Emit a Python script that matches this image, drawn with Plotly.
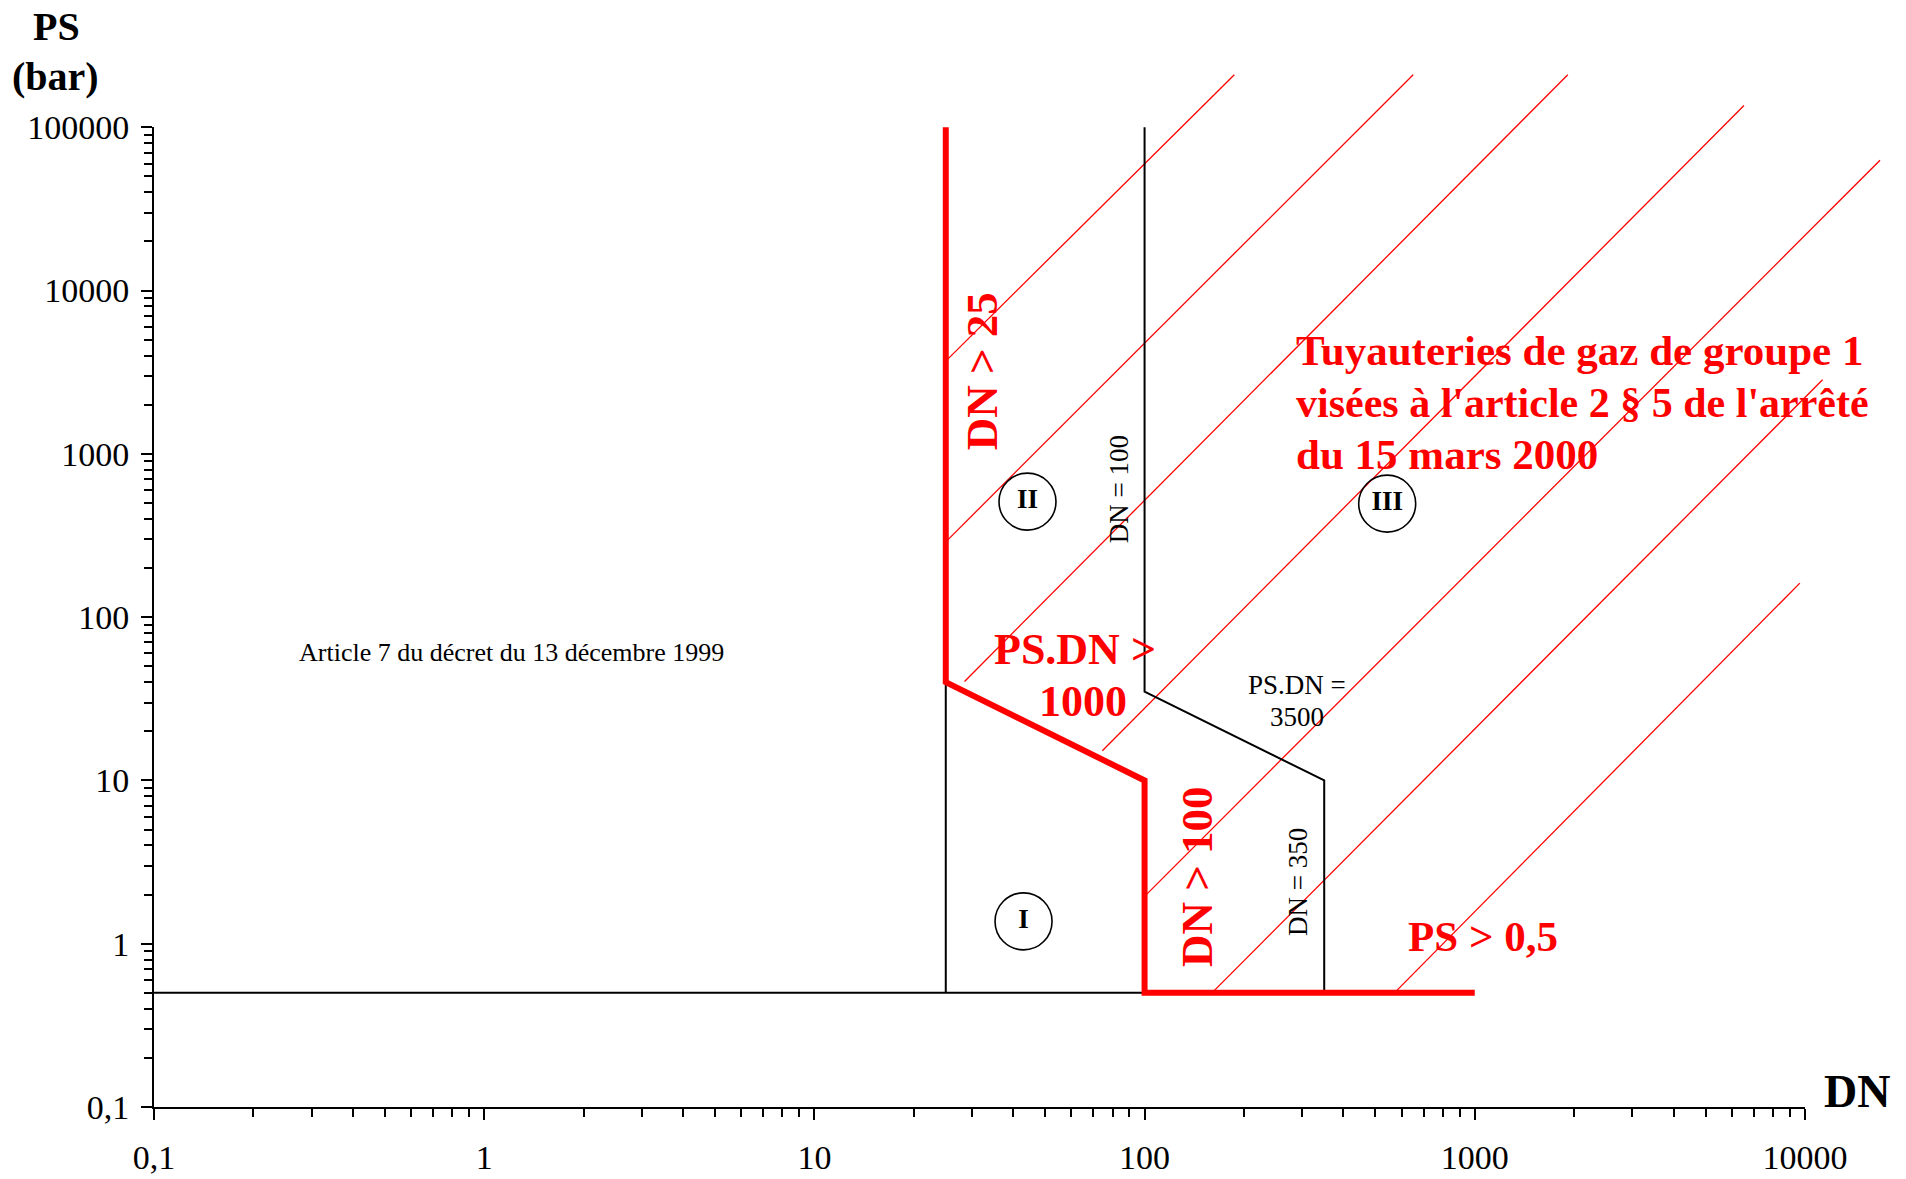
import numpy as np
import plotly.graph_objects as go

# ---------------- data ----------------
x_tick_vals = [0.1, 1, 10, 100, 1000, 10000]
x_tick_text = ["0,1", "1", "10", "100", "1000", "10000"]
y_tick_vals = [0.1, 1, 10, 100, 1000, 10000, 100000]
y_tick_text = ["0,1", "1", "10", "100", "1000", "10000", "100000"]

# black boundaries (DN, PS)
art7_dn = [0.1, 350]
art7_ps = [0.5, 0.5]
cat1_dn = [25, 25, 100]
cat1_ps = [0.5, 40, 10]
cat3_dn = [100, 100, 350, 350]
cat3_ps = [100000, 35, 10, 0.5]

# red thick limit
limit_dn = [25, 25, 100, 100, 1000]
limit_ps = [100000, 40, 10, 0.5, 0.5]

# red hatch lines
hatch_dn_start = [25, 25, 28.5, 74.5, 100, 160, 571]
hatch_ps_start = [3700, 289, 40.4, 15.2, 1.95, 0.5, 0.5]
hatch_dn_end = [187, 651, 1913, 6537, 16880, 11310, 9652]
hatch_ps_end = [210000, 210000, 210000, 136000, 62900, 2847, 161.6]

# region markers
region_labels = ["I", "II", "III"]
region_dn = [43.0, 44.2, 543]
region_ps = [1.37, 510, 496]

FONT = "Liberation Serif, Times New Roman, serif"
RED = "#FF0000"

fig = go.Figure()

hx, hy = [], []
for a, b, c, d in zip(hatch_dn_start, hatch_ps_start, hatch_dn_end, hatch_ps_end):
    hx += [a, c, None]
    hy += [b, d, None]
fig.add_trace(go.Scatter(x=hx, y=hy, mode="lines", line=dict(color=RED, width=1.3),
                         hoverinfo="skip"))

for xs, ys in [(art7_dn, art7_ps), (cat1_dn, cat1_ps), (cat3_dn, cat3_ps)]:
    fig.add_trace(go.Scatter(x=xs, y=ys, mode="lines", line=dict(color="black", width=2),
                             hoverinfo="skip"))

fig.add_trace(go.Scatter(x=limit_dn, y=limit_ps, mode="lines",
                         line=dict(color=RED, width=6), hoverinfo="skip"))

fig.add_trace(go.Scatter(x=region_dn, y=region_ps, mode="markers+text", text=region_labels,
                         textposition="middle center",
                         textfont=dict(family=FONT, size=27, color="black", weight="bold"),
                         marker=dict(symbol="circle-open", size=57, color="black",
                                     line=dict(color="black", width=1.6)),
                         hoverinfo="skip"))

# invisible trace for the visible axes
fig.add_trace(go.Scatter(x=[1], y=[1], xaxis="x2", yaxis="y2", mode="markers",
                         marker=dict(opacity=0), hoverinfo="skip"))

# ---------------- annotations ----------------
labels = [
    # text, dn, ps, size, bold, color, angle, xanchor
    ("Article 7 du décret du 13 décembre 1999", 1.21, 60.6, 26, False, "black", 0, "center"),
    ("DN = 100", 83.4, 604, 27, False, "black", -90, "center"),
    ("DN = 350", 290.6, 2.37, 27, False, "black", -90, "center"),
    ("PS.DN =", 288.7, 38.6, 27, False, "black", 0, "center"),
    ("3500", 290, 24.6, 27, False, "black", 0, "center"),
    ("PS.DN >", 61.6, 63.2, 44, True, RED, 0, "center"),
    ("1000", 64.9, 30.4, 44, True, RED, 0, "center"),
    ("DN > 25", 32.1, 3187, 45, True, RED, -90, "center"),
    ("DN > 100", 143.7, 2.58, 45, True, RED, -90, "center"),
    ("PS > 0,5", 1056, 1.105, 43, True, RED, 0, "center"),
    ("Tuyauteries de gaz de groupe 1", 282.6, 4285, 43, True, RED, 0, "left"),
    ("visées à l'article 2 § 5 de l'arrêté", 282.6, 2041, 42, True, RED, 0, "left"),
    ("du 15 mars 2000", 282.6, 994, 43, True, RED, 0, "left"),
]
annotations = []
for text, dn, ps, size, bold, color, angle, xa in labels:
    annotations.append(dict(
        x=np.log10(dn), y=np.log10(ps), xref="x", yref="y", text=text, showarrow=False,
        textangle=angle, xanchor=xa, yanchor="middle",
        font=dict(family=FONT, size=size, color=color, weight="bold" if bold else "normal")))

# axis titles
for text, px, py, size in [("DN", 0.9729, 0.0144, 46), ("PS", -0.0556, 1.0338, 40),
                           ("(bar)", -0.0563, 0.9857, 40)]:
    annotations.append(dict(x=px, y=py, xref="paper", yref="paper", text=text,
                            showarrow=False, xanchor="center", yanchor="middle",
                            font=dict(family=FONT, size=size, color="black", weight="bold")))

minor_x = [k * 10.0 ** e for e in range(-1, 4) for k in range(2, 10)]
minor_y = [k * 10.0 ** e for e in range(-1, 5) for k in range(2, 10)]

axis_common = dict(type="log", showline=True, linecolor="black", linewidth=2,
                   ticks="outside", ticklen=11, tickwidth=2, tickcolor="black",
                   tickmode="array", showgrid=False, zeroline=False, automargin=False,
                   tickfont=dict(family=FONT, size=34, color="black"))

fig.update_layout(
    width=1906, height=1179, autosize=False,
    margin=dict(l=154, r=2, t=62, b=72, pad=0, autoexpand=False),
    paper_bgcolor="white", plot_bgcolor="rgba(0,0,0,0)",
    showlegend=False,
    xaxis=dict(type="log", range=[-1, 4.3], domain=[0, 1], visible=False, anchor="y",
               automargin=False),
    yaxis=dict(type="log", range=[-1, 5.4], domain=[0, 1], visible=False, anchor="x",
               automargin=False),
    xaxis2=dict(axis_common, range=[-1, 4], domain=[0, 5 / 5.3], anchor="y2",
                tickvals=x_tick_vals, ticktext=x_tick_text, ticklabelstandoff=8,
                minor=dict(ticks="outside", ticklen=8, tickwidth=2, tickcolor="black",
                           tickmode="array", tickvals=minor_x, showgrid=False)),
    yaxis2=dict(axis_common, range=[-1, 5], domain=[0, 6 / 6.4], anchor="x2",
                tickvals=y_tick_vals, ticktext=y_tick_text, ticklabelstandoff=5,
                minor=dict(ticks="outside", ticklen=8, tickwidth=2, tickcolor="black",
                           tickmode="array", tickvals=minor_y, showgrid=False)),
    annotations=annotations,
)

fig.write_html("out.html", config={"displayModeBar": False},
               post_script="document.body.style.margin='0';document.body.style.overflow='hidden';")
